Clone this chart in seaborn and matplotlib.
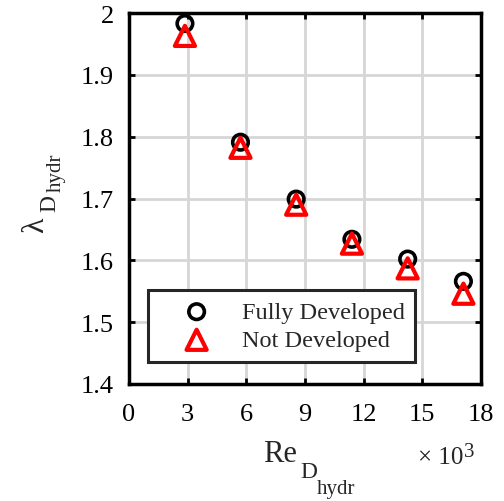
import numpy as np
import pandas as pd
import seaborn as sns
import matplotlib.pyplot as plt

# Reynolds number (x10^3) and friction factor values
re_hydr = [2.86, 5.70, 8.55, 11.40, 14.25, 17.10]
lam_fully = [1.983, 1.791, 1.699, 1.634, 1.602, 1.566]
lam_not = [1.963, 1.782, 1.690, 1.627, 1.587, 1.546]

sns.set_theme(style="whitegrid")
plt.rcParams['font.family'] = ['Liberation Serif', 'DejaVu Serif']

df = pd.DataFrame({"re": re_hydr, "fully": lam_fully, "not": lam_not})

W, H = 504, 502
fig = plt.figure(figsize=(W / 100, H / 100), dpi=100)
ax = fig.add_axes([129 / W, 1 - 385 / H, 352 / W, 371 / H])

sns.scatterplot(data=df, x="re", y="fully", ax=ax, marker="o", s=125,
                facecolor="none", edgecolor="black", linewidth=2.6,
                label="Fully Developed", zorder=3)
sns.scatterplot(data=df, x="re", y="not", ax=ax, marker="^", s=210,
                facecolor="none", edgecolor="red", linewidth=3,
                label="Not Developed", zorder=4)

ax.set_xlim(0, 18)
ax.set_ylim(1.4, 2.0)
ax.set_xticks(np.arange(0, 19, 3))
ax.set_yticks(np.arange(1.4, 2.01, 0.1))
ax.set_yticklabels(["1.4", "1.5", "1.6", "1.7", "1.8", "1.9", "2"])

ax.grid(True, color="#d6d6d6", linewidth=2)
ax.set_facecolor("white")
for sp in ax.spines.values():
    sp.set_color("black")
    sp.set_linewidth(2.5)
    sp.set_zorder(5)

ax.tick_params(direction="in", length=4, width=2, colors="black",
               labelsize=19, top=True, right=True,
               bottom=True, left=True)
ax.tick_params(axis="x", pad=14)
ax.tick_params(axis="y", pad=11)
ax.set_xlabel("")
ax.set_ylabel("")


def ftext(x, y, s, size, rot=0, ha="left"):
    # place text by pixel position of its baseline start
    fig.text(x / W, 1 - y / H, s, fontsize=size, ha=ha, va="baseline",
             rotation=rot, rotation_mode="anchor")


# x label: Re with nested subscripts D, hydr
ftext(263, 462, "Re", 22)
ftext(300, 478, "D", 17)
ftext(317, 494, "hydr", 15)
# y label: lambda with nested subscripts
ftext(43, 233, "\u03bb", 23, rot=90)
ftext(55, 212, "D", 17, rot=90)
ftext(61, 192, "hydr", 15, rot=90)
# exponent multiplier
ftext(463, 464, "\u00d7 10", 18, ha="right")
ftext(464, 457, "3", 15)

leg = ax.legend(loc="lower left", bbox_to_anchor=(0.054, 0.059),
                fontsize=17.5, frameon=True, fancybox=False,
                handletextpad=0.3, borderpad=0.45, labelspacing=0.25,
                handlelength=3.1, borderaxespad=0)
leg.get_frame().set_edgecolor("#262626")
leg.get_frame().set_linewidth(2.2)
leg.get_frame().set_alpha(1)

fig.savefig("out.png", dpi=100)
